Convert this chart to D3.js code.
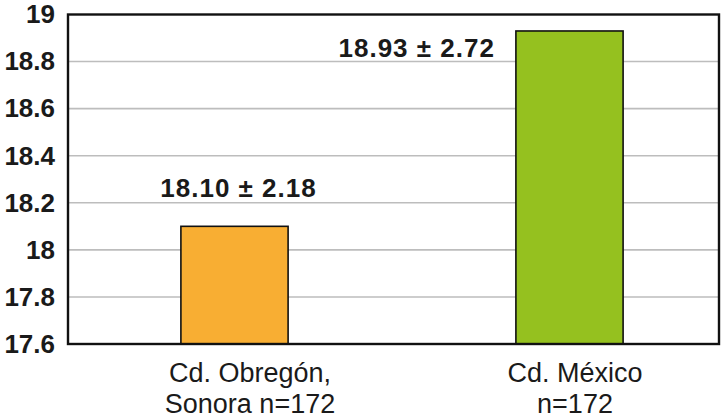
<!DOCTYPE html>
<html>
<head>
<meta charset="utf-8">
<script src="https://cdn.jsdelivr.net/npm/d3@7"></script>
<style>
  html, body { margin: 0; padding: 0; background: #fff; }
  svg { display: block; }
  text { font-family: "Liberation Sans", Arial, Helvetica, sans-serif; fill: #1a1a1a; }
</style>
</head>
<body>
<svg id="chart" width="723" height="418"></svg>
<script>
const categories = ["Cd. Obregón, Sonora", "Cd. México"];
const categoryLines = [["Cd. Obregón,", "Sonora n=172"], ["Cd. México", "n=172"]];
const means = [18.10, 18.93];
const sds = [2.18, 2.72];
const colors = ["#f8ae33", "#95c11f"];
const yTicks = [17.6, 17.8, 18, 18.2, 18.4, 18.6, 18.8, 19];
const yDomain = [17.6, 19];

const svg = d3.select("#chart");
const plot = { left: 68, top: 14.5, right: 719, bottom: 344 };

const y = d3.scaleLinear().domain(yDomain).range([plot.bottom, plot.top]);
const x = d3.scaleBand().domain(categories).range([67, 737]).paddingInner(0.68).paddingOuter(0.34);
const xLabel = d3.scalePoint().domain(categories).range([250, 575]);

// gridlines
svg.append("g").selectAll("line")
  .data(yTicks.filter(t => t > yDomain[0] && t < yDomain[1]))
  .join("line")
  .attr("x1", plot.left).attr("x2", plot.right)
  .attr("y1", d => y(d)).attr("y2", d => y(d))
  .attr("stroke", "#bdbdbd").attr("stroke-width", 1.6);

// y axis labels
const yAxis = d3.axisLeft(y).tickValues(yTicks).tickSize(0).tickPadding(13)
  .tickFormat(d => d3.format("")(+d.toFixed(1)));
const gy = svg.append("g").attr("transform", `translate(${plot.left},0)`).call(yAxis);
gy.select(".domain").remove();
gy.selectAll("text")
  .style("font-family", '"Liberation Sans", Arial, sans-serif')
  .attr("font-size", 26).attr("font-weight", "bold").attr("fill", "#1a1a1a");

// bars
svg.append("g").selectAll("rect")
  .data(categories)
  .join("rect")
  .attr("x", d => x(d))
  .attr("width", x.bandwidth())
  .attr("y", (d, i) => y(means[i]))
  .attr("height", (d, i) => y(yDomain[0]) - y(means[i]))
  .attr("fill", (d, i) => colors[i])
  .attr("stroke", "#111").attr("stroke-width", 1.6);

// frame
svg.append("rect")
  .attr("x", plot.left).attr("y", plot.top)
  .attr("width", plot.right - plot.left).attr("height", plot.bottom - plot.top)
  .attr("fill", "none").attr("stroke", "#111").attr("stroke-width", 2.4);

// value labels
svg.append("g").selectAll("text")
  .data(categories)
  .join("text")
  .attr("x", (d, i) => i === 0 ? x(d) + x.bandwidth() / 2 + 4 : x(d) - 21)
  .attr("y", (d, i) => i === 0 ? y(means[i]) - 29 : y(means[i]) + 26)
  .attr("text-anchor", (d, i) => i === 0 ? "middle" : "end")
  .attr("font-size", 26).attr("font-weight", "bold").attr("letter-spacing", 1)
  .text((d, i) => `${means[i].toFixed(2)} ± ${sds[i].toFixed(2)}`);

// x category labels
const xl = svg.append("g").selectAll("text")
  .data(categories)
  .join("text")
  .attr("x", d => xLabel(d))
  .attr("text-anchor", "middle")
  .attr("font-size", 27);
xl.each(function(d, i) {
  d3.select(this).selectAll("tspan")
    .data(categoryLines[i])
    .join("tspan")
    .attr("x", xLabel(d))
    .attr("y", (t, j) => 382 + j * 31)
    .text(t => t);
});
</script>
</body>
</html>
